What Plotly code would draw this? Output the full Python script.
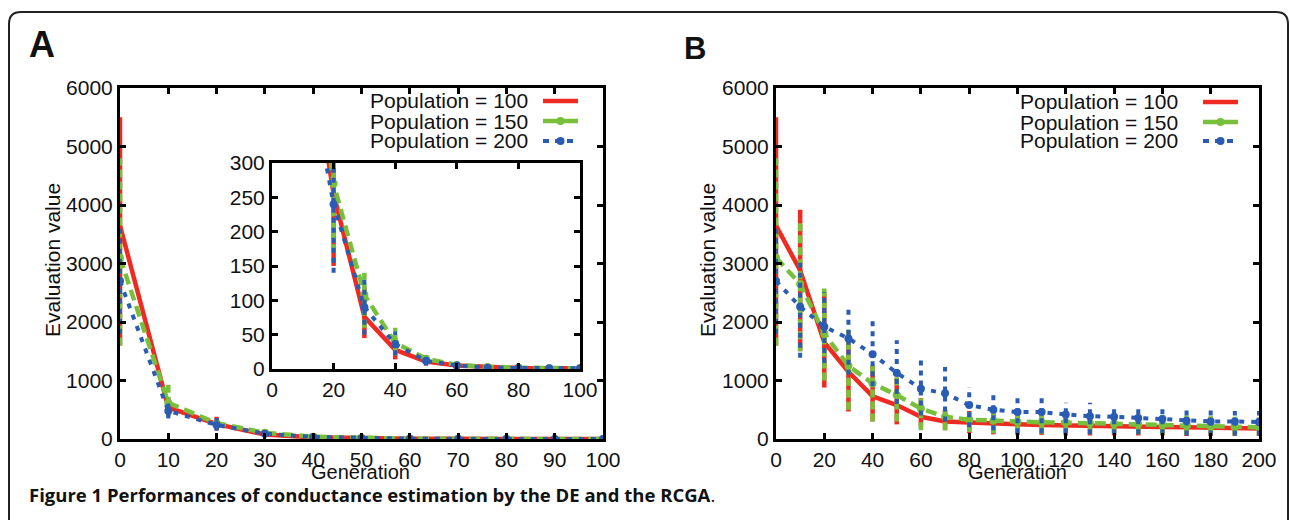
import plotly.graph_objects as go

W, H = 1290, 520

# ---------------- data ----------------
series_names = ["Population = 100", "Population = 150", "Population = 200"]

gen_A = list(range(0, 101, 10))
red_A = [3650, 540, 255, 76, 28, 11, 5, 2.5, 1.5, 1, 1]
red_lo_A = [1600, 400, 150, 45, 14, 5, 2, 1, 0.5, 0.3, 0.3]
red_hi_A = [5500, 700, 380, 120, 45, 20, 9, 5, 3, 2, 2]
green_A = [3100, 620, 270, 108, 38, 15, 6, 3, 2, 1, 1]
green_lo_A = [1600, 380, 170, 60, 20, 8, 3, 1, 0.5, 0.3, 0.3]
green_hi_A = [4800, 930, 350, 140, 60, 22, 10, 5, 3, 2, 2]
blue_A = [2700, 480, 240, 90, 36, 12, 5, 2, 1.5, 1, 1]
blue_lo_A = [1800, 350, 140, 50, 20, 5, 2, 1, 0.5, 0.3, 0.3]
blue_hi_A = [3600, 650, 360, 130, 55, 20, 9, 5, 3, 2, 2]

gen_B = list(range(0, 201, 10))
red_B = [3650, 2880, 1650, 1150, 730, 580, 380, 300, 280, 260, 250, 240, 230, 225, 220, 215, 205, 200, 190, 185, 180]
red_lo_B = [1600, 1500, 880, 470, 300, 250, 200, 150, 100, 80, 70, 70, 60, 60, 60, 60, 60, 50, 50, 50, 50]
red_hi_B = [5500, 3920, 2500, 1850, 1250, 1050, 700, 500, 480, 450, 420, 420, 400, 400, 400, 380, 380, 380, 380, 360, 350]
green_B = [3100, 2650, 1800, 1250, 950, 750, 520, 380, 330, 310, 290, 285, 280, 270, 260, 250, 240, 230, 220, 210, 200]
green_lo_B = [1600, 1500, 1000, 500, 300, 300, 150, 150, 120, 100, 90, 90, 80, 80, 80, 80, 70, 70, 70, 60, 60]
green_hi_B = [4800, 3700, 2630, 1900, 1300, 1100, 800, 550, 500, 480, 470, 460, 450, 440, 430, 420, 410, 400, 390, 380, 370]
blue_B = [2700, 2260, 1920, 1720, 1450, 1130, 860, 780, 580, 500, 460, 460, 420, 390, 380, 360, 340, 310, 300, 300, 290]
blue_lo_B = [1800, 1390, 1300, 1100, 900, 600, 400, 300, 200, 150, 100, 100, 100, 80, 80, 80, 80, 60, 60, 60, 60]
blue_hi_B = [3600, 3100, 2510, 2290, 2090, 1690, 1370, 1230, 890, 750, 720, 720, 620, 620, 580, 560, 580, 500, 500, 480, 480]

# ---------------- styles ----------------
RED, GREEN, BLUE = "#ee2a22", "#78c03c", "#2a5cb4"
FONT = "Liberation Sans, Arial, sans-serif"
styles = [
    dict(color=RED, dash="solid", width=4.5, marker=False),
    dict(color=GREEN, dash="11px,6px", width=4.5, marker=True),
    dict(color=BLUE, dash="5px,7px", width=4, marker=True),
]


def px(x):
    return x / W


def py(y):
    return 1 - y / H


fig = go.Figure()


def add_series(xa, ya, x, mean, lo, hi, st, err_dash):
    ex, ey = [], []
    for xi, l, h in zip(x, lo, hi):
        ex += [xi, xi, None]
        ey += [l, h, None]
    fig.add_trace(go.Scatter(x=ex, y=ey, mode="lines", xaxis=xa, yaxis=ya,
                             line=dict(color=st["color"], width=st["width"], dash=err_dash),
                             showlegend=False, hoverinfo="skip"))
    fig.add_trace(go.Scatter(x=x, y=mean, mode="lines+markers" if st["marker"] else "lines",
                             xaxis=xa, yaxis=ya,
                             line=dict(color=st["color"], width=st["width"], dash=st["dash"]),
                             marker=dict(size=8, color=st["color"]),
                             showlegend=False))


data_A = [(red_A, red_lo_A, red_hi_A), (green_A, green_lo_A, green_hi_A), (blue_A, blue_lo_A, blue_hi_A)]
data_B = [(red_B, red_lo_B, red_hi_B), (green_B, green_lo_B, green_hi_B), (blue_B, blue_lo_B, blue_hi_B)]
err_dashes = ["solid", "8px,4px", "5px,5px"]

for (m, l, h), st, ed in zip(data_A, styles, err_dashes):
    add_series("x", "y", gen_A, m, l, h, st, ed)
for (m, l, h), st, ed in zip(data_A, styles, err_dashes):
    add_series("x2", "y2", gen_A, m, l, h, st, ed)
for (m, l, h), st, ed in zip(data_B, styles, err_dashes):
    add_series("x3", "y3", gen_B, m, l, h, st, ed)

axis_common = dict(showline=True, linecolor="black", linewidth=3, mirror="ticks",
                   ticks="inside", ticklen=6, tickwidth=2.5, tickcolor="black",
                   showgrid=False, zeroline=False, automargin=False,
                   tickfont=dict(family=FONT, size=21, color="#111"))

fig.update_layout(
    template="none",
    width=W, height=H, autosize=False, margin=dict(l=0, r=0, t=0, b=0, pad=0),
    paper_bgcolor="white", plot_bgcolor="white", showlegend=False,
    xaxis=dict(domain=[px(120), px(603)], range=[0, 100], dtick=10, anchor="y", **axis_common),
    yaxis=dict(domain=[py(439), py(88)], range=[0, 6000], dtick=1000, anchor="x", **axis_common),
    xaxis2=dict(domain=[px(272), px(580)], range=[0, 100], dtick=20, anchor="y2", **axis_common),
    yaxis2=dict(domain=[py(369), py(163)], range=[0, 300], dtick=50, anchor="x2", **axis_common),
    xaxis3=dict(domain=[px(776), px(1259)], range=[0, 200], dtick=20, anchor="y3", **axis_common),
    yaxis3=dict(domain=[py(439), py(88)], range=[0, 6000], dtick=1000, anchor="x3", **axis_common),
)

ann = []
shapes = []


def text(x, y, s, size=21, bold=False, xanchor="center", angle=0, family=FONT):
    ann.append(dict(x=px(x), y=py(y), xref="paper", yref="paper", text=("<b>%s</b>" % s) if bold else s,
                    showarrow=False, xanchor=xanchor, yanchor="middle", textangle=angle,
                    font=dict(family=family, size=size, color="#111")))


# panel labels
text(42, 44, "A", size=36, bold=True)
text(695, 48, "B", size=31, bold=True)
# axis titles
text(52, 260, "Evaluation value", angle=-90)
text(707, 260, "Evaluation value", angle=-90)
text(361, 472, "Generation", size=20)
text(1017, 472, "Generation", size=20)

# legends (text on left, sample on right)
for (tx, sx0, sx1, ys) in [(530, 543, 578, [101, 121, 141]), (1180, 1203, 1238, [102, 122, 141])]:
    for name, st, yy in zip(series_names, styles, ys):
        text(tx, yy, name, xanchor="right")
        shapes.append(dict(type="line", xref="paper", yref="paper",
                           x0=px(sx0), x1=px(sx1), y0=py(yy), y1=py(yy),
                           line=dict(color=st["color"], width=st["width"],
                                     dash="solid" if st["color"] != BLUE else "6px,6px")))
        if st["marker"]:
            cx = (sx0 + sx1) / 2
            shapes.append(dict(type="circle", xref="paper", yref="paper",
                               x0=px(cx - 4), x1=px(cx + 4), y0=py(yy - 4), y1=py(yy + 4),
                               fillcolor=st["color"], line=dict(width=0)))

# caption
ann.append(dict(x=px(27), y=py(494), xref="paper", yref="paper", showarrow=False,
                xanchor="left", yanchor="middle",
                text="<b>Figure 1 Performances of conductance estimation by the DE and the RCGA</b>.",
                font=dict(family="Open Sans, Noto Sans, sans-serif", size=18.5, color="#111")))

# rounded frame
x0, x1, y0, yb, r = 9, 1288, 12, 540, 12
path = "M {a},{b} L {a},{c} Q {a},{d} {e},{d} L {f},{d} Q {g},{d} {g},{c} L {g},{b}".format(
    a=px(x0), b=py(yb), c=py(y0 + r), d=py(y0), e=px(x0 + r), f=px(x1 - r), g=px(x1))
shapes.append(dict(type="path", xref="paper", yref="paper", path=path,
                   line=dict(color="#222", width=2)))

fig.update_layout(annotations=ann, shapes=shapes)
fig.write_html("out.html", config={"displayModeBar": False},
               post_script="document.body.style.margin='0';document.body.style.overflow='hidden';")
